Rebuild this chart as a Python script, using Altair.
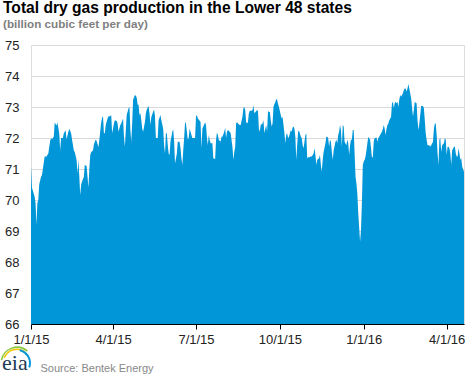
import altair as alt
import pandas as pd

# ---- data (day offset from 2015-01-01, bcf/d) ----
jan_mar15_days = [0, 1, 3, 4, 5, 6, 7, 8, 9, 11, 12, 13, 15, 17, 19, 21, 22, 23, 25,
                  26, 28, 29, 31, 32, 33, 35, 36, 38, 39, 41, 42, 44, 45, 47, 48, 50, 51, 52, 53,
                  54, 55, 56, 58, 59, 61, 62, 63, 64, 65, 66, 68, 69, 71, 72, 74, 75, 77, 78, 79]
jan_mar15_vals = [71.1, 70.4, 70.2, 70.1, 69.9, 69.2, 69.9, 70.0, 70.5, 70.75, 70.8, 71.0, 71.4, 71.4, 71.5, 71.9, 72.0, 71.95, 72.05,
                  72.5, 72.4, 72.5, 72.15, 71.6, 72.0, 72.0, 72.15, 72.25, 71.95, 72.2, 72.3, 72.15, 71.95, 71.6, 71.55, 71.3, 70.85, 71.3, 70.75,
                  70.15, 70.5, 70.6, 70.75, 71.13, 71.1, 70.75, 70.4, 71.0, 71.45, 71.55, 71.6, 71.8, 71.95, 71.9, 71.7, 71.95, 72.5, 72.65, 72.7]

apr_jun15_days = [80, 81, 82, 84, 85, 87, 88, 89, 91, 92, 94, 95, 96, 98, 99, 101, 102, 103, 104, 105,
                  107, 108, 109, 110, 111, 112, 114, 115, 116, 117, 118, 119, 120, 121, 122, 123, 125, 126, 127, 129,
                  130, 131, 132, 134, 135, 136, 137, 139, 140, 142, 143, 145, 146, 147, 148, 149, 150, 151, 152, 153,
                  155, 156, 157]
apr_jun15_vals = [72.15, 72.15, 72.42, 72.63, 72.7, 72.7, 72.74, 72.15, 72.47, 72.57, 72.55, 72.47, 72.2, 72.42, 72.47, 72.63, 72.04, 71.72, 72.26, 72.74,
                  72.96, 73.0, 72.26, 71.88, 72.47, 73.23, 73.39, 73.36, 73.3, 73.07, 73.07, 72.74, 72.8, 72.57, 72.3, 72.2, 72.52, 72.8, 72.92, 73.03,
                  72.8, 72.42, 72.68, 72.85, 72.92, 72.7, 72.0, 72.0, 72.57, 72.74, 72.57, 72.3, 71.77, 71.5, 72.15, 72.15, 71.77, 71.5, 71.45, 71.88,
                  72.2, 72.28, 71.9]

jun_aug15_days = [158, 160, 161, 163, 164, 165, 166, 167, 168, 169, 170, 172, 173, 174, 175, 177, 178, 180, 181, 182,
                  183, 184, 186, 187, 188, 189, 191, 192, 193, 194, 195, 196, 197, 199, 200, 202, 203, 204, 205, 206,
                  208, 209, 210, 212, 213, 214, 215, 216, 218, 219, 221, 222, 223, 224, 225, 226, 227, 229, 230, 232,
                  233, 234, 235, 236]
jun_aug15_vals = [71.18, 71.5, 71.88, 71.88, 71.67, 71.35, 71.13, 71.6, 72.0, 72.52, 72.47, 71.94, 72.0, 72.3, 72.2, 72.0, 72.0, 72.0, 72.69, 72.74,
                  72.63, 72.6, 72.52, 71.67, 72.3, 72.37, 72.5, 72.42, 72.0, 71.77, 72.1, 71.94, 71.83, 71.83, 71.35, 71.32, 71.94, 72.18, 72.1, 71.94,
                  71.88, 72.04, 72.04, 72.2, 72.34, 72.0, 72.2, 72.26, 72.2, 72.15, 71.72, 71.3, 71.55, 71.72, 72.47, 72.52, 72.47, 72.42, 72.42, 72.69,
                  72.96, 73.0, 72.9, 72.52]

aug_nov15_days = [237, 238, 239, 240, 242, 243, 244, 245, 247, 248, 249, 250, 251, 252, 254, 255, 256, 257, 258, 259,
                  260, 262, 263, 264, 265, 266, 267, 268, 269, 270, 271, 272, 274, 275, 276, 277, 278, 279, 280, 281,
                  282, 283, 285, 286, 287, 288, 289, 290, 291, 292, 293, 294, 296, 297, 298, 299, 300, 301, 302, 303,
                  304, 305, 307, 308, 310, 311, 312, 313, 314, 316]
aug_nov15_vals = [72.47, 72.52, 72.8, 72.88, 72.88, 72.9, 73.06, 72.8, 72.86, 72.9, 72.86, 72.3, 72.2, 72.42, 72.47, 72.57, 72.15, 72.3, 72.42, 72.2,
                  72.86, 72.83, 72.57, 72.37, 72.47, 73.0, 73.1, 73.15, 73.26, 73.23, 73.1, 73.0, 72.74, 72.63, 72.68, 72.42, 72.15, 71.83, 72.1, 72.15,
                  72.0, 72.04, 72.26, 72.2, 72.34, 72.37, 72.3, 72.04, 71.3, 71.77, 72.2, 72.24, 72.04, 72.0, 71.77, 71.67, 71.88, 72.1, 72.15, 71.35,
                  71.38, 71.38, 71.4, 71.4, 71.5, 71.67, 71.45, 71.13, 71.3, 71.35]

nov15_jan16_days = [317, 318, 319, 320, 321, 323, 324, 325, 326, 327, 328, 329, 330, 331, 332, 334, 335, 336, 337, 338,
                    339, 340, 341, 342, 343, 344, 346, 347, 348, 349, 350, 351, 352, 353, 354, 355, 356, 357, 358, 359,
                    361, 362, 363, 364, 365, 366, 367, 368, 369, 370, 372, 373, 374, 375, 376, 377, 378, 379, 380, 381,
                    382, 384, 385, 386, 387, 388, 389, 390, 391, 392, 393, 395]
nov15_jan16_vals = [71.45, 71.13, 70.91, 71.3, 71.55, 71.83, 72.04, 72.04, 72.0, 71.72, 71.94, 71.88, 71.55, 71.3, 71.6, 71.88, 71.94, 71.83, 72.1, 72.2,
                    72.42, 72.26, 71.72, 72.42, 72.37, 71.88, 71.77, 71.94, 71.83, 71.45, 71.77, 71.94, 71.94, 72.26, 72.26, 71.5, 70.75, 70.53, 70.2, 69.57,
                    68.65, 69.03, 69.9, 71.13, 71.24, 71.3, 71.4, 71.6, 71.83, 72.04, 71.94, 71.67, 71.38, 71.38, 71.88, 72.0, 72.0, 72.02, 71.88, 72.0,
                    72.04, 72.15, 72.2, 72.3, 72.42, 72.3, 72.1, 72.3, 72.42, 72.47, 72.57, 72.68]

feb_apr16_days = [396, 397, 398, 399, 400, 401, 402, 403, 404, 405, 406, 408, 409, 410, 411, 412, 413, 414, 415, 416,
                  417, 419, 420, 421, 422, 423, 424, 425, 426, 427, 428, 430, 431, 432, 433, 434, 435, 436, 437, 438,
                  439, 441, 442, 443, 444, 445, 446, 447, 448, 449, 450, 451, 453, 454, 455, 456, 457, 458, 459, 460,
                  461, 462, 464, 465, 466, 467, 468, 469, 470, 471, 472, 473, 475]
feb_apr16_vals = [73.12, 73.17, 72.96, 73.12, 73.17, 73.12, 73.17, 73.0, 73.23, 73.39, 73.33, 73.44, 73.55, 73.6, 73.6, 73.5, 73.6, 73.74, 73.6, 73.44,
                  73.28, 72.69, 72.9, 73.17, 73.14, 73.12, 72.57, 72.26, 72.47, 72.74, 73.03, 73.03, 72.96, 72.57, 72.15, 71.94, 71.77, 71.77, 71.77, 71.72,
                  71.77, 71.88, 72.3, 72.47, 72.47, 72.1, 71.5, 71.13, 71.94, 72.0, 71.55, 71.77, 71.83, 72.0, 71.94, 71.45, 71.72, 71.72, 71.67, 71.5,
                  71.13, 71.6, 71.72, 71.72, 71.5, 71.4, 71.4, 71.67, 71.5, 71.3, 71.35, 71.08, 70.91]

y_ticks = [66, 67, 68, 69, 70, 71, 72, 73, 74, 75]
x_tick_dates = [(2015, 1, 1), (2015, 4, 1), (2015, 7, 1), (2015, 10, 1), (2016, 1, 1), (2016, 4, 1)]

TITLE = "Total dry gas production in the Lower 48 states"
SUBTITLE = "(billion cubic feet per day)"
SOURCE = "Source: Bentek Energy"

# ---- build table ----
days = (jan_mar15_days + apr_jun15_days + jun_aug15_days + aug_nov15_days
        + nov15_jan16_days + feb_apr16_days)
vals = (jan_mar15_vals + apr_jun15_vals + jun_aug15_vals + aug_nov15_vals
        + nov15_jan16_vals + feb_apr16_vals)
start = pd.Timestamp("2015-01-01")
df = pd.DataFrame({"date": [start + pd.Timedelta(days=int(d)) for d in days], "bcfd": vals})

FONT = "Liberation Sans"
BLUE = "#0096d7"

x_vals = [alt.DateTime(year=y, month=m, date=d) for (y, m, d) in x_tick_dates]

area = alt.Chart(df).mark_area(color=BLUE, opacity=1, clip=True).encode(
    x=alt.X("date:T",
            scale=alt.Scale(domain=[alt.DateTime(year=2015, month=1, date=1),
                                    alt.DateTime(year=2016, month=4, date=20)]),
            axis=alt.Axis(values=x_vals, format="%-m/%-d/%y", grid=False,
                          domainColor="#000000", domainWidth=1,
                          tickColor="#000000", tickSize=5, tickWidth=1,
                          labelFont=FONT, labelFontSize=13, labelColor="#222222",
                          labelPadding=4, labelFlush=False, labelOverlap=False,
                          title=SOURCE, titleFont=FONT, titleFontSize=11,
                          titleFontWeight="normal", titleColor="#888888",
                          titleAnchor="start", titleAlign="left", titleBaseline="alphabetic",
                          titleX=9, titleY=47)),
    y=alt.Y("bcfd:Q",
            scale=alt.Scale(domain=[66, 75], nice=False, zero=False),
            axis=alt.Axis(values=y_ticks, grid=True, gridColor="#d9d9d9", gridWidth=1,
                          domain=False, ticks=False, labelFont=FONT, labelFontSize=13,
                          labelColor="#222222", labelPadding=12, title=None)),
    y2=alt.datum(66),
)

logo_df = pd.DataFrame({"t": ["eia"]})
logo_text = alt.Chart(logo_df).mark_text(
    font="Liberation Serif", fontSize=22, color="#1d3a57", align="left", baseline="alphabetic"
).encode(text="t:N", x=alt.value(-29), y=alt.value(325))

arc_green = alt.Chart(logo_df).mark_arc(color="#8cc63f").encode(
    x=alt.value(-14), y=alt.value(318), theta=alt.value(4.9), theta2=alt.value(7.0),
    radius=alt.value(16.5), radius2=alt.value(15))
arc_yellow = alt.Chart(logo_df).mark_arc(color="#f2c500").encode(
    x=alt.value(-14), y=alt.value(318), theta=alt.value(5.1), theta2=alt.value(6.9),
    radius=alt.value(14.5), radius2=alt.value(13))
arc_blue = alt.Chart(logo_df).mark_arc(color="#0096d7").encode(
    x=alt.value(-14), y=alt.value(318), theta=alt.value(6.5), theta2=alt.value(8.2),
    radius=alt.value(14), radius2=alt.value(12))

chart = alt.layer(area, arc_green, arc_yellow, arc_blue, logo_text).properties(
    width=433, height=279,
    autosize=alt.AutoSizeParams(type="none"),
    padding={"left": 31, "top": 45, "right": 4, "bottom": 54},
    title=alt.TitleParams(text=TITLE, subtitle=SUBTITLE, anchor="start", frame="group",
                          dx=-28, offset=8, font=FONT, fontSize=15.6, fontWeight="bold",
                          color="#000000", subtitleFont=FONT, subtitleFontSize=11.7,
                          subtitleFontWeight="bold", subtitleColor="#7f7f7f",
                          subtitlePadding=3),
).configure_view(stroke=None).configure(background="white")

chart.save("out.html", embed_options={"renderer": "svg", "actions": False})
